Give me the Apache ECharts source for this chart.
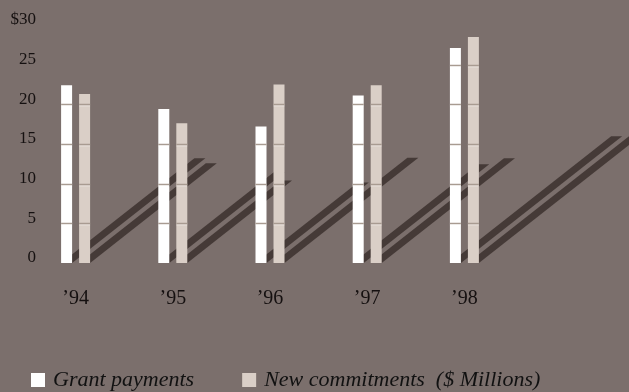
<!DOCTYPE html>
<html><head><meta charset="utf-8">
<script src="https://cdn.jsdelivr.net/npm/echarts@6/dist/echarts.min.js"></script>
<style>html,body{margin:0;padding:0;background:#7b6f6c;}#c{width:629px;height:392px;}</style>
</head><body><div id="c"></div>
<script>
// ---- data ----
const years = ['’94', '’95', '’96', '’97', '’98'];
const grantPayments = [22.4, 19.4, 17.2, 21.1, 27.1];
const newCommitments = [21.3, 17.6, 22.5, 22.4, 28.5];
const yTicks = [0, 5, 10, 15, 20, 25, 30];
const seriesNames = ['Grant payments', 'New commitments  ($ Millions)'];

// ---- style ----
const BG = '#7b6f6c';
const COLORS = ['#ffffff', '#dacfc7'];
const SHADOW = '#453a37';
const BAR_W = 11, BAR_GAP = 7;
const OFFSETS = [-(BAR_W + BAR_GAP) / 2, (BAR_W + BAR_GAP) / 2];
const SH_X = 0.75, SH_Y = 0.59;

const rows = years.map((y, i) => [i, grantPayments[i], newCommitments[i]]);

function shadowItem(params, api) {
  const i = api.value(0);
  const base = api.coord([i, 0]);
  const children = [];
  [1, 2].forEach((d, k) => {
    const top = api.coord([i, api.value(d)]);
    const h = base[1] - top[1];
    const x0 = base[0] + OFFSETS[k] - BAR_W / 2, x1 = x0 + BAR_W;
    const dx = h * SH_X, dy = h * SH_Y, by = base[1];
    children.push({
      type: 'polygon',
      shape: { points: [[x0, by], [x1, by], [x1 + dx, by - dy], [x0 + dx, by - dy]] },
      style: { fill: SHADOW }
    });
  });
  return { type: 'group', children };
}

function gridItem(params, api) {
  const i = api.value(0);
  const base = api.coord([i, 0]);
  const children = [];
  [1, 2].forEach((d, k) => {
    const v = api.value(d);
    const x0 = base[0] + OFFSETS[k] - BAR_W / 2, x1 = x0 + BAR_W;
    yTicks.forEach(t => {
      if (t > 0 && t < v) {
        const y = Math.round(api.coord([i, t])[1]) + 0.5;
        children.push({ type: 'line', shape: { x1: x0, y1: y, x2: x1, y2: y },
          style: { stroke: '#a89b91', lineWidth: 1.5 } });
        children.push({ type: 'line', shape: { x1: x0, y1: y + 1.5, x2: x1, y2: y + 1.5 },
          style: { stroke: 'rgba(255,255,255,0.35)', lineWidth: 1 } });
      }
    });
  });
  return { type: 'group', children };
}

const chart = echarts.init(document.getElementById('c'), null, { renderer: 'canvas' });
chart.setOption({
  backgroundColor: BG,
  animation: false,
  grid: { left: 27, right: 116, top: 25, bottom: 129 },
  legend: {
    data: seriesNames,
    left: 31, top: 369, padding: 0,
    icon: 'rect', itemWidth: 14, itemHeight: 14, itemGap: 48,
    textStyle: { fontFamily: 'Liberation Serif', fontStyle: 'italic', fontSize: 22, color: '#111',
      padding: [0, 0, 0, 3] }
  },
  xAxis: {
    type: 'category', data: years,
    axisLine: { show: false }, axisTick: { show: false }, splitLine: { show: false },
    axisLabel: { margin: 26, fontFamily: 'Liberation Serif', fontSize: 20, color: '#151010' }
  },
  yAxis: {
    type: 'value', min: yTicks[0], max: yTicks[yTicks.length - 1], interval: 5,
    axisLine: { show: false }, axisTick: { show: false }, splitLine: { show: false },
    axisLabel: {
      margin: -9, fontFamily: 'Liberation Serif', fontSize: 17, color: '#151010',
      verticalAlign: 'bottom', lineHeight: 10,
      formatter: v => v === yTicks[yTicks.length - 1] ? '$' + v : String(v)
    }
  },
  series: [
    { type: 'custom', z: 1, data: rows, encode: { x: 0, y: 1 }, renderItem: shadowItem, silent: true },
    { name: seriesNames[0], type: 'bar', z: 2, data: grantPayments, barWidth: BAR_W,
      barGap: (BAR_GAP / BAR_W * 100) + '%', itemStyle: { color: COLORS[0] } },
    { name: seriesNames[1], type: 'bar', z: 2, data: newCommitments, barWidth: BAR_W,
      itemStyle: { color: COLORS[1] } },
    { type: 'custom', z: 3, data: rows, encode: { x: 0, y: 1 }, renderItem: gridItem, silent: true }
  ]
});
</script></body></html>
